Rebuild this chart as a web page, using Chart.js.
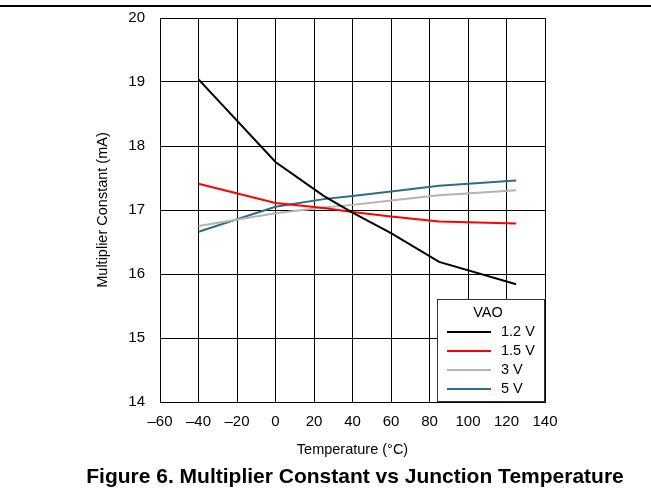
<!DOCTYPE html>
<html>
<head>
<meta charset="utf-8">
<script src="https://cdn.jsdelivr.net/npm/chart.js@4/dist/chart.umd.min.js"></script>
<style>
  body { margin: 0; background: #fff; }
  #wrap { width: 651px; height: 489px; }
</style>
</head>
<body>
<div id="wrap"><canvas id="myChart" width="651" height="489"></canvas></div>
<script>
// temperature points (°C) and multiplier constant (mA) per VAO
var temps = [-40, 0, 25, 40, 60, 85, 125];
var vao12 = [19.04, 17.75, 17.22, 16.96, 16.64, 16.19, 15.84];
var vao15 = [17.41, 17.11, 17.03, 16.97, 16.90, 16.82, 16.79];
var vao3 = [16.75, 16.95, 17.04, 17.08, 17.15, 17.23, 17.31];
var vao5 = [16.66, 17.05, 17.17, 17.22, 17.29, 17.38, 17.46];
var seriesLabels = ['1.2 V', '1.5 V', '3 V', '5 V'];
var seriesColors = ['#000000', '#ff0000', '#b4b4b4', '#2e6b87'];
var xTicks = { min: -60, max: 140, step: 20 };
var yTicks = { min: 14, max: 20, step: 1 };
var caption = 'Figure 6. Multiplier Constant vs Junction Temperature';

function pts(vals) {
    return temps.map(function (t, i) { return { x: t, y: vals[i] }; });
}

var allSeries = [vao12, vao15, vao3, vao5];
var datasets = allSeries.map(function (vals, i) {
    return {
        label: seriesLabels[i],
        data: pts(vals),
        borderColor: seriesColors[i],
        backgroundColor: seriesColors[i],
        borderWidth: 2,
        pointRadius: 0,
        tension: 0,
        fill: false
    };
});

var font = "Arial, 'Liberation Sans', sans-serif";

// legend box inside the plot + top rule + caption
var extras = {
    id: 'extras',
    afterDraw: function (chart) {
        var c = chart.ctx;
        var a = chart.chartArea;
        c.save();
        // top rule
        c.fillStyle = '#000';
        c.fillRect(0, 5, 651, 2);

        // legend
        var w = 108, h = 103;
        var lx = a.right - w, ly = a.bottom - h;
        c.fillStyle = '#fff';
        c.fillRect(lx, ly, w, h);
        c.strokeStyle = '#333';
        c.lineWidth = 1;
        c.strokeRect(lx + 0.5, ly + 0.5, w - 1, h - 1);
        c.fillStyle = '#000';
        c.font = '14.5px ' + font;
        c.textBaseline = 'middle';
        c.textAlign = 'center';
        c.fillText('VAO', lx + 51, ly + 14);
        c.textAlign = 'left';
        chart.data.datasets.forEach(function (ds, i) {
            var yy = ly + 33 + i * 19;
            c.strokeStyle = ds.borderColor;
            c.lineWidth = 2;
            c.beginPath();
            c.moveTo(lx + 10, yy);
            c.lineTo(lx + 54, yy);
            c.stroke();
            c.fillStyle = '#000';
            c.fillText(ds.label, lx + 64, yy);
        });

        // caption
        c.font = 'bold 21px ' + font;
        c.textAlign = 'center';
        c.textBaseline = 'alphabetic';
        c.fillStyle = '#000';
        c.fillText(caption, 355, 483);
        c.restore();
    }
};

var ctx = document.getElementById('myChart').getContext('2d');
var myChart = new Chart(ctx, {
    type: 'line',
    data: { datasets: datasets },
    plugins: [extras],
    options: {
        responsive: false,
        animation: false,
        layout: { padding: { left: 90, top: 18, right: 106, bottom: 30 } },
        plugins: {
            legend: { display: false },
            tooltip: { enabled: false }
        },
        scales: {
            x: {
                type: 'linear',
                min: xTicks.min,
                max: xTicks.max,
                afterFit: function (s) {
                    s.height = 57;
                    s.paddingLeft = 0;
                    s.paddingRight = 0;
                },
                ticks: {
                    stepSize: xTicks.step,
                    padding: 11,
                    color: '#000',
                    font: { family: font, size: 15 },
                    callback: function (v) { return String(v).replace('-', '\u2013'); }
                },
                grid: { color: '#000', lineWidth: 1, drawTicks: false },
                border: { color: '#000', width: 1 },
                title: {
                    display: true,
                    text: 'Temperature (°C)',
                    color: '#000',
                    font: { family: font, size: 14.5 },
                    padding: { top: 0, bottom: 0 }
                }
            },
            y: {
                min: yTicks.min,
                max: yTicks.max,
                afterFit: function (s) {
                    s.width = 70;
                    s.paddingTop = 0;
                    s.paddingBottom = 0;
                },
                ticks: {
                    stepSize: yTicks.step,
                    padding: 15,
                    color: '#000',
                    font: { family: font, size: 15 }
                },
                grid: { color: '#000', lineWidth: 1, drawTicks: false },
                border: { color: '#000', width: 1 },
                title: {
                    display: true,
                    text: 'Multiplier Constant (mA)',
                    color: '#000',
                    font: { family: font, size: 14.5 },
                    padding: { top: 4, bottom: 0 }
                }
            }
        }
    }
});
</script>
</body>
</html>
